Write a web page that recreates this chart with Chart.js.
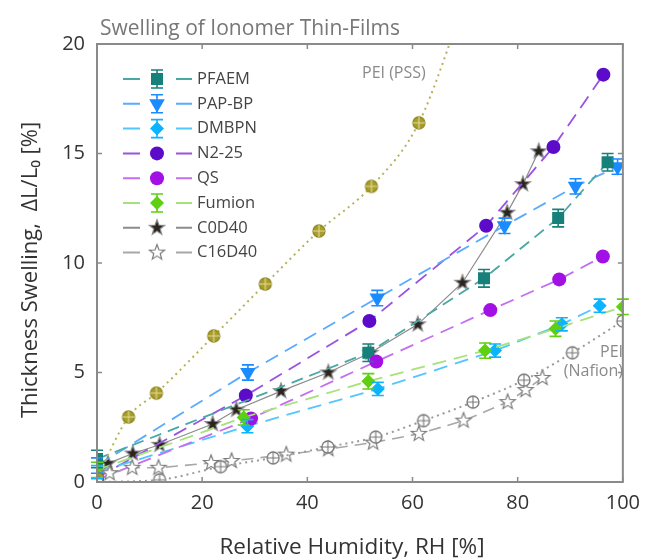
<!DOCTYPE html>
<html>
<head>
<meta charset="utf-8">
<script src="https://cdn.jsdelivr.net/npm/chart.js@4.4.1/dist/chart.umd.min.js"></script>
<style>
  html, body { margin: 0; padding: 0; background: #fff; }
  #wrap { width: 649px; height: 559px; }
</style>
</head>
<body>
<div id="wrap"><canvas id="chart"></canvas></div>
<script>
// ---- DATA ----
const xTicks = [0, 20, 40, 60, 80, 100];
const yTicks = [0, 5, 10, 15, 20];

const pfaemRH = [0, 51.6, 73.6, 87.7, 97.1];
const pfaemSw = [1.05, 5.9, 9.3, 12.05, 14.6];

const papRH = [0, 28.7, 53.3, 77.5, 91, 99];
const papSw = [0.75, 5.0, 8.4, 11.7, 13.5, 14.4];

const dmbpnRH = [0, 28.6, 53.4, 75.7, 88.4, 95.6];
const dmbpnSw = [0.45, 2.55, 4.25, 6.0, 7.2, 8.05];

const n225RH = [0, 28.3, 51.8, 74, 86.8, 96.3];
const n225Sw = [0.2, 3.95, 7.35, 11.7, 15.3, 18.6];

const qsRH = [0, 29.3, 53.1, 74.8, 87.9, 96.2];
const qsSw = [0.1, 2.9, 5.5, 7.85, 9.25, 10.3];

const fumionRH = [0, 27.9, 51.6, 73.8, 87.2, 100];
const fumionSw = [0.55, 2.95, 4.6, 6.0, 7.0, 8.0];

const c0d40RH = [2.1, 6.8, 11.9, 22, 26.5, 35, 44, 52, 61, 69.5, 78, 81, 84];
const c0d40Sw = [0.85, 1.3, 1.7, 2.65, 3.3, 4.15, 5.0, 5.9, 7.2, 9.1, 12.3, 13.6, 15.1];

const c16d40RH = [2.4, 6.7, 11.7, 21.7, 25.6, 36, 44, 52.5, 61.2, 69.7, 78.1, 81.5, 84.7];
const c16d40Sw = [0.4, 0.65, 0.65, 0.87, 0.96, 1.25, 1.5, 1.8, 2.2, 2.8, 3.65, 4.2, 4.75];

const peiPssRH = [0, 6, 11.3, 22.2, 32, 42.2, 52.2, 61.2, 70];
const peiPssSw = [0.2, 2.97, 4.06, 6.67, 9.04, 11.46, 13.5, 16.4, 22.0];

const peiNafRH = [0, 11.9, 23.5, 33.5, 43.9, 53, 62.1, 71.5, 81.2, 90.4, 100];
const peiNafSw = [0, 0.1, 0.7, 1.1, 1.6, 2.05, 2.8, 3.65, 4.65, 5.9, 7.35];

const FONT = "'Open Sans', 'Noto Sans', sans-serif";

function pts(xs, ys) {
  return xs.map((x, i) => ({ x: x, y: ys[i] }));
}

// ---- MARKER IMAGES ----
function makeStar(fill, stroke, r) {
  const c = document.createElement('canvas');
  const s = r * 2 + 4;
  c.width = s; c.height = s;
  const g = c.getContext('2d');
  g.beginPath();
  for (let i = 0; i < 10; i++) {
    const rr = i % 2 === 0 ? r : r * 0.42;
    const a = -Math.PI / 2 + i * Math.PI / 5;
    const px = s / 2 + rr * Math.cos(a), py = s / 2 + rr * Math.sin(a);
    if (i === 0) g.moveTo(px, py); else g.lineTo(px, py);
  }
  g.closePath();
  g.fillStyle = fill; g.fill();
  g.lineWidth = 1.2; g.strokeStyle = stroke; g.stroke();
  return c;
}

function makeCrossCircle(fill, stroke, cross, r) {
  const c = document.createElement('canvas');
  const s = r * 2 + 4;
  c.width = s; c.height = s;
  const g = c.getContext('2d');
  g.beginPath();
  g.arc(s / 2, s / 2, r, 0, Math.PI * 2);
  g.fillStyle = fill; g.fill();
  g.lineWidth = 1.3; g.strokeStyle = stroke; g.stroke();
  g.beginPath();
  g.moveTo(s / 2 - r, s / 2); g.lineTo(s / 2 + r, s / 2);
  g.moveTo(s / 2, s / 2 - r); g.lineTo(s / 2, s / 2 + r);
  g.strokeStyle = cross; g.lineWidth = 1.1; g.stroke();
  return c;
}

const starBlack = makeStar('#2b2520', '#8a8a8a', 8);
const starWhite = makeStar('#ffffff', '#7a7a7a', 8);
const circPss = makeCrossCircle('#a89e2c', '#8f8620', '#e4dc9a', 6);
const circNaf = makeCrossCircle('#ffffff', '#777777', '#777777', 6);

// ---- DATASETS ----
function series(label, xs, ys, o) {
  return Object.assign({
    label: label,
    data: pts(xs, ys),
    showLine: true,
    borderWidth: 1.8,
    pointBorderWidth: 0,
    pointRadius: 7,
    tension: 0
  }, o);
}

const datasets = [
  series('PEI (Nafion)', peiNafRH, peiNafSw, {
    borderColor: '#9a9a9a', borderDash: [2, 4], borderWidth: 2,
    pointStyle: circNaf, cubicInterpolationMode: 'monotone', noLegend: true
  }),
  series('PEI (PSS)', peiPssRH, peiPssSw, {
    borderColor: '#b8b25a', borderDash: [2, 4], borderWidth: 2,
    pointStyle: circPss, cubicInterpolationMode: 'monotone', noLegend: true
  }),
  series('C16D40', c16d40RH, c16d40Sw, {
    borderColor: '#a8a8a8', borderDash: [12, 7], borderWidth: 1.6,
    pointStyle: starWhite
  }),
  series('Fumion', fumionRH, fumionSw, {
    borderColor: '#a6e27a', borderDash: [14, 8],
    backgroundColor: '#5fcf12', pointStyle: 'rectRot', pointRadius: 7, errBar: 0.35
  }),
  series('QS', qsRH, qsSw, {
    borderColor: '#c46ef0', borderDash: [14, 8],
    backgroundColor: '#a210e6', pointStyle: 'circle', pointRadius: 7
  }),
  series('DMBPN', dmbpnRH, dmbpnSw, {
    borderColor: '#52c6ff', borderDash: [14, 8],
    backgroundColor: '#0cb4ff', pointStyle: 'rectRot', pointRadius: 7, errBar: 0.3
  }),
  series('PFAEM', pfaemRH, pfaemSw, {
    borderColor: '#4aa8a4', borderDash: [12, 7],
    backgroundColor: '#16807a', pointStyle: 'rect', pointRadius: 8.5, errBar: 0.4
  }),
  series('PAP-BP', papRH, papSw, {
    borderColor: '#5aabff', borderDash: [14, 8],
    backgroundColor: '#1a8cff', pointStyle: 'triangle', rotation: 180, pointRadius: 9, errBar: 0.35
  }),
  series('N2-25', n225RH, n225Sw, {
    borderColor: '#9a52e2', borderDash: [14, 8],
    backgroundColor: '#5c0cc8', pointStyle: 'circle', pointRadius: 7
  }),
  series('C0D40', c0d40RH, c0d40Sw, {
    borderColor: '#8c8c8c', borderWidth: 1.2,
    pointStyle: starBlack
  })
];

const legendOrder = ['PFAEM', 'PAP-BP', 'DMBPN', 'N2-25', 'QS', 'Fumion', 'C0D40', 'C16D40'];

// ---- PLUGINS ----
const errBarPlugin = {
  id: 'errBars',
  afterDatasetsDraw(chart) {
    const ctx = chart.ctx, y = chart.scales.y;
    chart.data.datasets.forEach((ds, i) => {
      if (!ds.errBar) return;
      const meta = chart.getDatasetMeta(i);
      ctx.save();
      ctx.strokeStyle = ds.backgroundColor;
      ctx.lineWidth = 1.6;
      meta.data.forEach((p, j) => {
        const v = ds.data[j].y;
        const y1 = y.getPixelForValue(v + ds.errBar);
        const y2 = y.getPixelForValue(Math.max(0, v - ds.errBar));
        ctx.beginPath();
        ctx.moveTo(p.x, y1); ctx.lineTo(p.x, y2);
        ctx.moveTo(p.x - 6, y1); ctx.lineTo(p.x + 6, y1);
        ctx.moveTo(p.x - 6, y2); ctx.lineTo(p.x + 6, y2);
        ctx.stroke();
      });
      ctx.restore();
    });
  }
};

const framePlugin = {
  id: 'frame',
  afterDraw(chart) {
    const ctx = chart.ctx, a = chart.chartArea;
    const xs = chart.scales.x, ys = chart.scales.y;
    ctx.save();
    ctx.strokeStyle = '#8a8a8a';
    ctx.lineWidth = 2;
    ctx.strokeRect(a.left, a.top, a.right - a.left, a.bottom - a.top);
    ctx.lineWidth = 1.5;
    ctx.beginPath();
    xTicks.forEach(t => {
      const px = xs.getPixelForValue(t);
      ctx.moveTo(px, a.bottom); ctx.lineTo(px, a.bottom - 5);
      ctx.moveTo(px, a.top); ctx.lineTo(px, a.top + 5);
    });
    yTicks.forEach(t => {
      const py = ys.getPixelForValue(t);
      ctx.moveTo(a.left, py); ctx.lineTo(a.left + 5, py);
      ctx.moveTo(a.right, py); ctx.lineTo(a.right - 5, py);
    });
    ctx.stroke();

    // titles and notes
    ctx.fillStyle = '#777';
    ctx.font = '21px ' + FONT;
    ctx.textAlign = 'left';
    ctx.textBaseline = 'alphabetic';
    ctx.fillText('Swelling of Ionomer Thin-Films', 100, 35);

    ctx.fillStyle = '#8a8a8a';
    ctx.font = '16px ' + FONT;
    ctx.textBaseline = 'middle';
    ctx.fillText('PEI (PSS)', 362, 73);
    ctx.textAlign = 'right';
    ctx.fillText('PEI', 623, 352);
    ctx.fillText('(Nafion)', 623, 371);

    ctx.fillStyle = '#333';
    ctx.font = '22.5px ' + FONT;
    ctx.textAlign = 'center';
    ctx.textBaseline = 'alphabetic';
    ctx.fillText('Relative Humidity, RH [%]', 352, 554);
    ctx.translate(37, 270);
    ctx.rotate(-Math.PI / 2);
    ctx.font = '22px ' + FONT;
    ctx.fillText('Thickness Swelling,  \u0394L/L\u2080 [%]', 0, 0);
    ctx.restore();

    // legend
    ctx.save();
    ctx.font = '16.5px ' + FONT;
    ctx.textAlign = 'left';
    ctx.textBaseline = 'middle';
    legendOrder.forEach((name, i) => {
      const ds = chart.data.datasets.find(d => d.label === name);
      const ly = 79 + i * 24.8;
      ctx.strokeStyle = ds.borderColor;
      ctx.lineWidth = 2;
      ctx.beginPath();
      ctx.moveTo(123, ly); ctx.lineTo(140, ly);
      ctx.moveTo(176, ly); ctx.lineTo(192, ly);
      ctx.stroke();
      if (ds.errBar) {
        ctx.strokeStyle = ds.backgroundColor;
        ctx.lineWidth = 1.6;
        ctx.beginPath();
        ctx.moveTo(157, ly - 9); ctx.lineTo(157, ly + 9);
        ctx.moveTo(151, ly - 9); ctx.lineTo(163, ly - 9);
        ctx.moveTo(151, ly + 9); ctx.lineTo(163, ly + 9);
        ctx.stroke();
      }
      ctx.fillStyle = ds.backgroundColor || '#000';
      Chart.helpers.drawPoint(ctx, {
        pointStyle: ds.pointStyle,
        radius: ds.pointRadius,
        rotation: ds.rotation || 0,
        borderWidth: 0
      }, 157, ly);
      ctx.fillStyle = '#444';
      ctx.fillText(name, 197, ly);
    });
    ctx.restore();
  }
};

// ---- CHART ----
new Chart(document.getElementById('chart'), {
  type: 'scatter',
  data: { datasets: datasets },
  options: {
    responsive: true,
    maintainAspectRatio: false,
    animation: false,
    layout: { padding: { top: 44, right: 21, left: 0, bottom: 0 } },
    plugins: {
      legend: { display: false },
      tooltip: { enabled: false }
    },
    scales: {
      x: {
        type: 'linear', min: 0, max: 100,
        afterFit: s => { s.height = 77; },
        afterBuildTicks: s => { s.ticks = xTicks.map(v => ({ value: v })); },
        grid: { display: false, drawTicks: false },
        border: { display: false },
        ticks: { color: '#333', padding: 9, font: { family: FONT, size: 20 } }
      },
      y: {
        type: 'linear', min: 0, max: 20,
        afterFit: s => { s.width = 97; },
        afterBuildTicks: s => { s.ticks = yTicks.map(v => ({ value: v })); },
        grid: { display: false, drawTicks: false },
        border: { display: false },
        ticks: { color: '#333', padding: 12, font: { family: FONT, size: 20 } }
      }
    }
  },
  plugins: [errBarPlugin, framePlugin]
});
</script>
</body>
</html>
